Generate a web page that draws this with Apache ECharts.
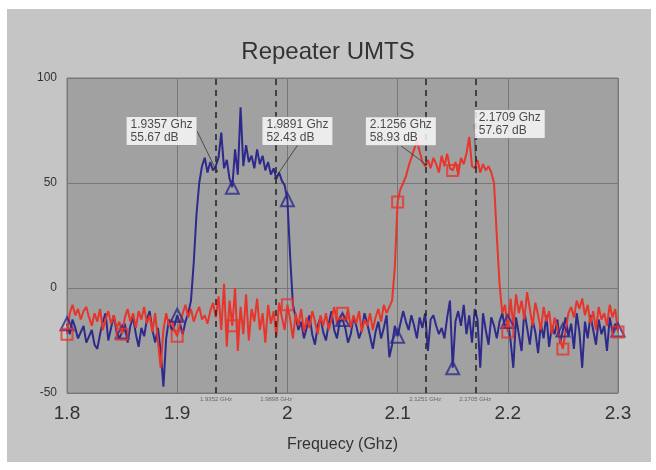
<!DOCTYPE html>
<html>
<head>
<meta charset="utf-8">
<script src="https://cdn.jsdelivr.net/npm/echarts@6/dist/echarts.min.js"></script>
<style>
  html, body { margin: 0; padding: 0; background: #fff; }
  #chart { width: 656px; height: 470px; }
</style>
</head>
<body>
<div id="chart"></div>
<script>
// sweep: 1.8 -> 2.3 GHz, one sample every 2.5 MHz (201 samples)
const freqStart = 1.8;
const freqStep = 0.0025;
const markerStep = 20; // a marker every 0.05 GHz

// trace 1 (blue, triangles) in dB
const blueValues = [
  -17, -22, -15, -19, -24, -21, -18, -26, -23, -20, -27, -29, -22, -16, -12, -25, -19, -13, -21, -24,
  -21, -17, -26, -18, -14, -22, -28, -19, -23, -15, -11, -20, -26, -19, -30, -47, -24, -15, -20, -18,
  -13, -17, -22, -16, -12, -6, 12, 35, 50, 58, 62, 55, 60, 56, 58, 62, 74, 57, 61, 52,
  48, 66, 54, 86, 58, 68, 60, 63, 57, 66, 59, 63, 56, 60, 54, 57, 52, 55, 51, 49,
  42, 15, -8, -14, -20, -16, -24, -19, -13, -22, -27, -18, -14, -21, -25, -17, -11, -20, -24, -16,
  -15, -19, -26, -22, -14, -18, -24, -20, -12, -17, -23, -29, -21, -16, -24, -19, -13, -33, -27, -18,
  -23, -17, -11, -16, -20, -13, -18, -24, -14, -19, -12, -30, -15, -13, -18, -22, -19, -24, -14, -6,
  -38, -16, -11, -18, -8, -22, -13, -26, -10, -15, -38, -12, -20, -27, -14, -18, -24, -16, -12, -19,
  -16, -25, -38, -14, -22, -30, -11, -19, -27, -15, -21, -31, -17, -24, -13, -28, -18, -22, -15, -26,
  -20, -14, -23, -17, -29, -12, -21, -38, -16, -24, -13, -20, -27, -15, -22, -18, -30, -14, -21, -17,
  -20
];

// trace 2 (red, squares) in dB
const redValues = [
  -22, -12, -8, -13, -10, -15, -11, -9, -14, -18, -12, -16, -10, -20, -15, -11, -17, -13, -19, -16,
  -22, -14, -10, -16, -12, -19, -11, -15, -9, -17, -13, -21, -12, -25, -38, -20, -12, -18, -15, -20,
  -23, -17, -12, -8, -14, -10, -16, -12, -9, -15, -13, -17, -11, -7, -14, -4, -20, 2, -28, -6,
  -18, 0, -30, -9, -22, -3, -25, -10, -16, -5, -20, -12, -26, -8, -17, -11, -23, -7, -14, -20,
  -8, -15, -24, -12, -18, -10, -21, -14, -19, -11, -16, -22, -13, -18, -12, -20, -15, -9, -17, -14,
  -12, -16, -10, -19, -13, -17, -11, -21, -15, -18, -12, -20, -14, -10, -16, -8, -12, -9, -6, 10,
  41, 47, 50, 53, 58, 62, 66, 70, 65, 60, 58, 61, 57, 62, 59, 55, 63, 58, 64, 57,
  56, 60, 54, 62, 59, 64, 72, 58, 57, 61, 55, 59, 56, 58, 55, 50, 25, 2, -12, -8,
  -21, -5, -18, -3, -12, -6, -15, -2, -10, -18, -7, -13, -20, -9, -16, -11, -22, -14, -19, -25,
  -29, -20, -12, -9, -14, -6, -10, -5, -13, -8, -17, -11, -20, -9, -15, -12, -18, -8, -14, -10,
  -21
];

// marker readouts
const cursorFreqs = [1.9357, 1.9891, 2.1256, 2.1709];
const cursorLevels = [55.67, 52.43, 58.93, 57.67];
// dashed reference lines along the bottom
const refFreqs = [1.9352, 1.9898, 2.1251, 2.1705];

const xTicks = { min: 1.8, max: 2.3, interval: 0.1 };
const yTicks = { min: -50, max: 100, interval: 50 };

const BLUE = '#2e2a8c';
const RED = '#e8352b';

function toPoints(values) {
  return values.map((v, i) => [+(freqStart + i * freqStep).toFixed(4), v]);
}
function markersOf(points) {
  return points.filter((p, i) => i % markerStep === 0);
}

const bluePts = toPoints(blueValues);
const redPts = toPoints(redValues);

// top-left corner of each readout box relative to its point (px)
const boxOffsets = [[-90, -54], [-13, -61], [-60, -47], [-1, -57]];

const chart = echarts.init(document.getElementById('chart'), null, { renderer: 'canvas' });

chart.setOption({
  backgroundColor: '#fff',
  animation: false,
  graphic: [{
    type: 'rect',
    z: -10,
    shape: { x: 7, y: 9, width: 644, height: 453 },
    style: { fill: '#c5c5c5' }
  }],
  title: {
    text: 'Repeater UMTS',
    left: 'center',
    top: 35,
    textStyle: { fontSize: 24, fontWeight: 'normal', color: '#333', fontFamily: 'Liberation Sans, Arial, sans-serif' }
  },
  grid: {
    left: 67, right: 38, top: 78, bottom: 77,
    show: true,
    backgroundColor: '#a1a1a1',
    borderColor: '#7c7c7c',
    borderWidth: 1
  },
  xAxis: {
    type: 'value',
    min: xTicks.min, max: xTicks.max, interval: xTicks.interval,
    name: 'Frequecy (Ghz)',
    nameLocation: 'middle',
    nameGap: 44,
    nameTextStyle: { fontSize: 16, color: '#333' },
    axisLine: { show: false },
    axisTick: { show: false },
    axisLabel: { fontSize: 19, color: '#333', margin: 11 },
    splitLine: { show: true, lineStyle: { color: '#777', width: 1 } }
  },
  yAxis: {
    type: 'value',
    min: yTicks.min, max: yTicks.max, interval: yTicks.interval,
    axisLine: { show: false },
    axisTick: { show: false },
    axisLabel: { fontSize: 12, color: '#333', margin: 10 },
    splitLine: { show: true, lineStyle: { color: '#777', width: 1 } }
  },
  series: [
    {
      name: 'trace1',
      type: 'line',
      data: bluePts,
      symbol: 'none',
      lineStyle: { color: BLUE, width: 2 },
      markLine: {
        silent: true,
        symbol: 'none',
        precision: 4,
        lineStyle: { color: '#222', type: [6, 5], width: 1.5 },
        label: {
          show: true,
          position: 'start',
          distance: 3,
          fontSize: 6,
          color: '#666',
          formatter: p => refFreqs[p.dataIndex] + ' GHz'
        },
        data: refFreqs.map(f => ({ xAxis: f }))
      },
      z: 2
    },
    {
      name: 'trace2',
      type: 'line',
      data: redPts,
      symbol: 'none',
      lineStyle: { color: RED, width: 2 },
      z: 3
    },
    {
      name: 'trace1 markers',
      type: 'scatter',
      data: markersOf(bluePts),
      symbol: 'triangle',
      symbolSize: 13,
      itemStyle: { color: 'rgba(0,0,0,0)', borderColor: BLUE, borderWidth: 2 },
      z: 4
    },
    {
      name: 'trace2 markers',
      type: 'scatter',
      data: markersOf(redPts),
      symbol: 'rect',
      symbolSize: 11,
      itemStyle: { color: 'rgba(0,0,0,0)', borderColor: RED, borderWidth: 2 },
      z: 4
    },
    {
      name: 'readouts',
      type: 'scatter',
      data: cursorFreqs.map((f, i) => [f, cursorLevels[i]]),
      symbol: 'circle',
      symbolSize: 3,
      itemStyle: { color: '#333' },
      label: {
        show: true,
        position: 'inside',
        formatter: p => cursorFreqs[p.dataIndex] + ' Ghz\n' + cursorLevels[p.dataIndex].toFixed(2) + ' dB',
        fontSize: 12,
        lineHeight: 13,
        color: '#222',
        align: 'left',
        verticalAlign: 'top',
        backgroundColor: '#fff',
        borderColor: '#999',
        borderWidth: 0.5,
        padding: [1, 4]
      },
      labelLine: { show: true, lineStyle: { color: '#333', width: 0.8 } },
      labelLayout: p => ({ dx: boxOffsets[p.dataIndex][0], dy: boxOffsets[p.dataIndex][1] }),
      z: 6
    }
  ]
});
</script>
</body>
</html>
